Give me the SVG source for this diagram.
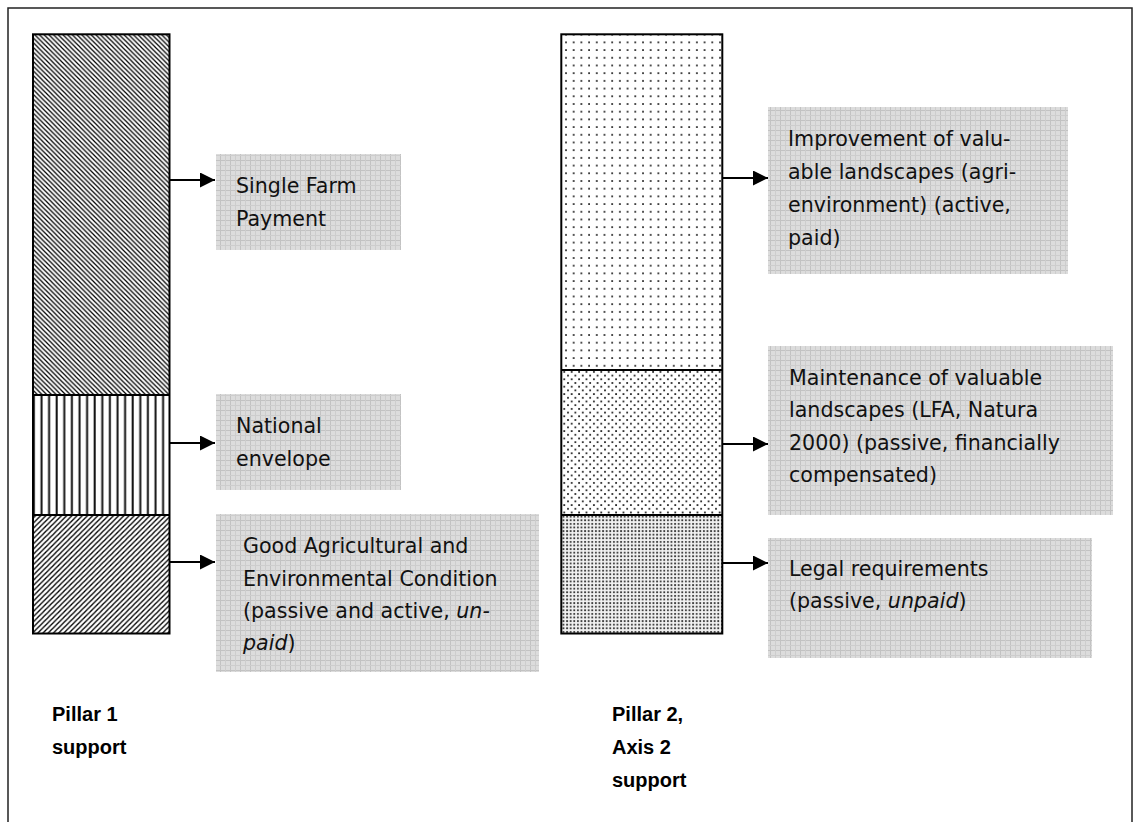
<svg xmlns="http://www.w3.org/2000/svg" width="1135" height="822" viewBox="0 0 1135 822">
  <style>
    .frame { fill: none; stroke: #222; stroke-width: 1.5; }
    .bar { stroke: #000; stroke-width: 2; }
    .divider { stroke: #000; stroke-width: 2; }
    .box { fill: url(#gridFill); }
    .lbl { font-family: "DejaVu Sans", Verdana, sans-serif; font-size: 20.6px; fill: #111; }
    .em { font-style: italic; }
    .cap { font-family: "Liberation Sans", Arial, sans-serif; font-size: 20px; font-weight: bold; fill: #000; }
    .link { stroke: #000; stroke-width: 2; fill: none; marker-end: url(#head); }
  </style>
  <defs>
    <!-- dark downward diagonal (\) -->
    <pattern id="hatchDown" width="4.7" height="4.7" patternUnits="userSpaceOnUse">
      <path d="M0,0 L4.7,4.7 M-1,3.7 L1,5.7 M3.7,-1 L5.7,1" stroke="#000" stroke-width="1.25"/>
    </pattern>
    <!-- vertical lines -->
    <pattern id="hatchVert" width="7.6" height="8" patternUnits="userSpaceOnUse">
      <rect x="2.5" y="0" width="2" height="8" fill="#111"/>
    </pattern>
    <!-- upward diagonal (/) -->
    <pattern id="hatchUp" width="5.2" height="5.2" patternUnits="userSpaceOnUse">
      <path d="M0,5.2 L5.2,0 M-1,1 L1,-1 M4.2,6.2 L6.2,4.2" stroke="#000" stroke-width="1.35"/>
    </pattern>
    <!-- sparse dots -->
    <pattern id="dotsSparse" width="7.7" height="7.7" patternUnits="userSpaceOnUse">
      <rect x="3" y="3" width="1.8" height="1.8" fill="#333"/>
    </pattern>
    <!-- medium dots, staggered -->
    <pattern id="dotsMedium" width="7.4" height="7.4" patternUnits="userSpaceOnUse">
      <rect x="1" y="1" width="1.8" height="1.8" fill="#2a2a2a"/>
      <rect x="4.7" y="4.7" width="1.8" height="1.8" fill="#2a2a2a"/>
    </pattern>
    <!-- dense dots -->
    <pattern id="dotsDense" width="3.6" height="3.6" patternUnits="userSpaceOnUse">
      <rect width="3.6" height="3.6" fill="#f2f2f2"/>
      <rect x="1" y="1" width="1.8" height="1.8" fill="#333"/>
    </pattern>
    <!-- light grey grid fill of the label boxes -->
    <pattern id="gridFill" width="10" height="10" patternUnits="userSpaceOnUse">
      <rect width="10" height="10" fill="#dcdcdc"/>
      <path d="M0.5,0 V10 M0,0.5 H10" stroke="#c2c2c2" stroke-width="1"/>
      <path d="M5.5,0 V10 M0,5.5 H10" stroke="#cdcdcd" stroke-width="1"/>
    </pattern>
    <marker id="head" markerWidth="15" markerHeight="15" viewBox="0 0 15 15" refX="15" refY="7.5" markerUnits="userSpaceOnUse" orient="auto">
      <path d="M0,0 L15,7.5 L0,15 Z" fill="#000"/>
    </marker>
  </defs>

  <rect class="frame" x="8" y="8" width="1124" height="830"/>

  <!-- Pillar 1 column -->
  <g id="pillar1">
    <rect x="33" y="34.3" width="136.5" height="360.7" fill="url(#hatchDown)"/>
    <rect x="33" y="395" width="136.5" height="120" fill="url(#hatchVert)"/>
    <rect x="33" y="515" width="136.5" height="118.5" fill="url(#hatchUp)"/>
    <rect class="bar" x="33" y="34.3" width="136.5" height="599.2" fill="none"/>
    <line class="divider" x1="33" y1="395" x2="169.5" y2="395"/>
    <line class="divider" x1="33" y1="515" x2="169.5" y2="515"/>
    <text class="cap" x="52" y="721">Pillar 1</text>
    <text class="cap" x="52" y="754">support</text>
  </g>

  <!-- Pillar 2, Axis 2 column -->
  <g id="pillar2">
    <rect x="561.3" y="34.3" width="161" height="335.7" fill="url(#dotsSparse)"/>
    <rect x="561.3" y="370" width="161" height="145" fill="url(#dotsMedium)"/>
    <rect x="561.3" y="515" width="161" height="118.5" fill="url(#dotsDense)"/>
    <rect class="bar" x="561.3" y="34.3" width="161" height="599.2" fill="none"/>
    <line class="divider" x1="561.3" y1="370" x2="722.3" y2="370"/>
    <line class="divider" x1="561.3" y1="515" x2="722.3" y2="515"/>
    <text class="cap" x="612" y="721">Pillar 2,</text>
    <text class="cap" x="612" y="754">Axis 2</text>
    <text class="cap" x="612" y="787">support</text>
  </g>

  <g id="single-farm-payment">
    <rect class="box" x="216" y="154" width="185" height="96"/>
    <text class="lbl" x="236" y="193">Single Farm</text>
    <text class="lbl" x="236" y="226">Payment</text>
  </g>

  <g id="national-envelope">
    <rect class="box" x="216" y="394" width="185" height="96"/>
    <text class="lbl" x="236" y="433">National</text>
    <text class="lbl" x="236" y="466">envelope</text>
  </g>

  <g id="gaec">
    <rect class="box" x="216" y="514" width="323" height="158"/>
    <text class="lbl" x="243" y="553">Good Agricultural and</text>
    <text class="lbl" x="243" y="586">Environmental Condition</text>
    <text class="lbl" x="243" y="618">(passive and active, <tspan class="em">un-</tspan></text>
    <text class="lbl" x="243" y="650"><tspan class="em">paid</tspan>)</text>
  </g>

  <g id="improvement">
    <rect class="box" x="768" y="107" width="300" height="167"/>
    <text class="lbl" x="788" y="146">Improvement of valu-</text>
    <text class="lbl" x="788" y="179">able landscapes (agri-</text>
    <text class="lbl" x="788" y="212">environment) (active,</text>
    <text class="lbl" x="788" y="245">paid)</text>
  </g>

  <g id="maintenance">
    <rect class="box" x="768" y="346" width="345" height="169"/>
    <text class="lbl" x="789" y="385">Maintenance of valuable</text>
    <text class="lbl" x="789" y="417">landscapes (LFA, Natura</text>
    <text class="lbl" x="789" y="450">2000) (passive, financially</text>
    <text class="lbl" x="789" y="482">compensated)</text>
  </g>

  <g id="legal">
    <rect class="box" x="768" y="538" width="324" height="120"/>
    <text class="lbl" x="789" y="576">Legal requirements</text>
    <text class="lbl" x="789" y="608">(passive, <tspan class="em">unpaid</tspan>)</text>
  </g>

  <!-- connectors -->
  <g id="connectors">
    <path class="link" d="M170,180 H215"/>
    <path class="link" d="M170,443 H215"/>
    <path class="link" d="M170,562 H215"/>
    <path class="link" d="M723,178 H768"/>
    <path class="link" d="M723,444 H768"/>
    <path class="link" d="M723,563 H768"/>
  </g>
</svg>
